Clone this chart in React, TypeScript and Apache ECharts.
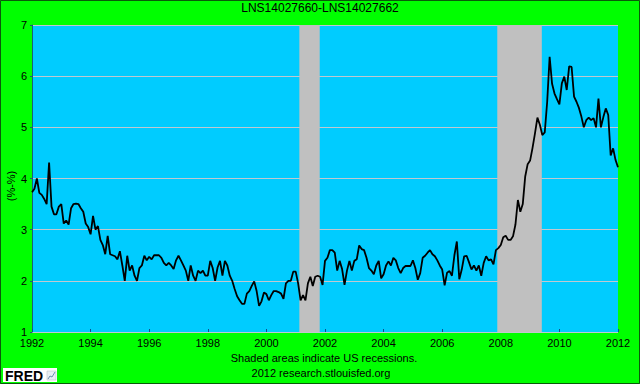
import React, { useEffect, useRef } from "react";
import * as echarts from "echarts";

// Monthly values (%-%) per year, Jan..Dec
const v1992 = [3.73, 3.8, 4.0, 3.72, 3.68, 3.6, 3.5, 4.31, 3.45, 3.3, 3.3, 3.45];
const v1993 = [3.5, 3.12, 3.18, 3.1, 3.42, 3.5, 3.51, 3.5, 3.42, 3.35, 3.12, 3.05];
const v1994 = [2.91, 3.27, 3.0, 3.07, 2.8, 2.7, 2.52, 2.88, 2.52, 2.5, 2.48, 2.42];
const v1995 = [2.58, 2.3, 2.0, 2.49, 2.2, 2.3, 2.1, 2.0, 2.25, 2.3, 2.49, 2.4];
const v1996 = [2.47, 2.42, 2.5, 2.5, 2.5, 2.45, 2.35, 2.3, 2.35, 2.3, 2.23, 2.4];
const v1997 = [2.49, 2.4, 2.3, 2.2, 2.0, 2.3, 2.1, 2.0, 2.2, 2.15, 2.2, 2.1];
const v1998 = [2.1, 2.39, 2.25, 2.0, 2.26, 2.39, 2.1, 2.39, 2.3, 2.1, 2.0, 1.84];
const v1999 = [1.7, 1.62, 1.55, 1.55, 1.75, 1.8, 1.9, 1.99, 1.8, 1.51, 1.6, 1.77];
const v2000 = [1.74, 1.62, 1.72, 1.8, 1.8, 1.78, 1.75, 1.65, 1.95, 2.0, 2.0, 2.18];
const v2001 = [2.18, 1.95, 1.62, 1.72, 1.62, 1.95, 2.08, 1.9, 2.08, 2.1, 2.08, 1.92];
const v2002 = [2.39, 2.45, 2.6, 2.6, 2.55, 2.2, 2.39, 2.23, 1.92, 2.2, 2.39, 2.2];
const v2003 = [2.39, 2.42, 2.69, 2.62, 2.6, 2.45, 2.25, 2.2, 2.13, 2.3, 2.39, 2.05];
const v2004 = [2.13, 2.3, 2.38, 2.3, 2.45, 2.4, 2.25, 2.15, 2.25, 2.29, 2.29, 2.29];
const v2005 = [2.4, 2.25, 2.02, 2.15, 2.45, 2.49, 2.55, 2.6, 2.52, 2.48, 2.4, 2.3];
const v2006 = [2.22, 1.91, 2.16, 2.19, 2.1, 2.5, 2.77, 2.03, 2.22, 2.48, 2.49, 2.36];
const v2007 = [2.22, 2.3, 2.2, 2.3, 2.1, 2.35, 2.48, 2.4, 2.42, 2.32, 2.6, 2.64];
const v2008 = [2.7, 2.85, 2.88, 2.8, 2.8, 2.87, 3.1, 3.58, 3.35, 3.5, 4.04, 4.28];
const v2009 = [4.35, 4.6, 4.88, 5.19, 5.05, 4.85, 4.9, 5.5, 6.38, 5.85, 5.66, 5.55];
const v2010 = [5.45, 5.86, 5.99, 5.73, 6.19, 6.18, 5.6, 5.5, 5.38, 5.21, 5.0, 5.14];
const v2011 = [5.19, 5.14, 5.18, 5.0, 5.56, 5.0, 5.2, 5.37, 5.24, 4.45, 4.59, 4.36];
const v2012 = [4.22];

const yearlyValues: [number, number[]][] = [
  [1992, v1992], [1993, v1993], [1994, v1994], [1995, v1995], [1996, v1996],
  [1997, v1997], [1998, v1998], [1999, v1999], [2000, v2000], [2001, v2001],
  [2002, v2002], [2003, v2003], [2004, v2004], [2005, v2005], [2006, v2006],
  [2007, v2007], [2008, v2008], [2009, v2009], [2010, v2010], [2011, v2011],
  [2012, v2012],
];

// Recession shading (decimal years)
const recessions: [number, number][] = [
  [2001.125, 2001.82],
  [2007.88, 2009.4],
];

const xTicks = [1992, 1994, 1996, 1998, 2000, 2002, 2004, 2006, 2008, 2010, 2012];
const yTicks = [1, 2, 3, 4, 5, 6, 7];

const FONT = "'Liberation Sans', 'DejaVu Sans', Arial, sans-serif";

export default function App() {
  const ref = useRef<HTMLDivElement>(null);

  useEffect(() => {
    if (!ref.current) return;
    const chart = echarts.init(ref.current, undefined, { renderer: "svg" });

    const data: [number, number][] = [];
    yearlyValues.forEach(([yr, vals]) => {
      vals.forEach((v, i) => data.push([yr + i / 12, v]));
    });

    const option: any = {
      animation: false,
      backgroundColor: "#00ff00",
      grid: {
        left: 32,
        right: 22,
        top: 25,
        bottom: 52,
        show: true,
        backgroundColor: "#00ccff",
        borderWidth: 0,
        containLabel: false,
      },
      xAxis: {
        type: "value",
        min: xTicks[0],
        max: xTicks[xTicks.length - 1],
        interval: 2,
        axisLine: { show: false },
        axisTick: { show: true, inside: true, length: 3, lineStyle: { color: "#0a4f8f" } },
        splitLine: { show: false },
        axisLabel: {
          color: "#000",
          fontSize: 11,
          fontFamily: FONT,
          margin: 5,
          formatter: (v: number) => String(v),
        },
      },
      yAxis: {
        type: "value",
        min: yTicks[0],
        max: yTicks[yTicks.length - 1],
        interval: 1,
        axisLine: { show: true, lineStyle: { color: "#1a5f7a", width: 1 } },
        axisTick: { show: true, length: 2, lineStyle: { color: "#1a5f7a" } },
        splitLine: { show: true, lineStyle: { color: "#c0c8d0", width: 1 } },
        axisLabel: {
          color: "#000",
          fontSize: 11,
          fontFamily: FONT,
          margin: 5,
        },
      },
      series: [
        {
          type: "line",
          data: [],
          z: 1,
          silent: true,
          markArea: {
            silent: true,
            itemStyle: { color: "#c0c0c0", opacity: 1 },
            data: recessions.map(([a, b]) => [{ xAxis: a }, { xAxis: b }]),
          },
        },
        {
          type: "line",
          data,
          z: 5,
          showSymbol: false,
          symbol: "none",
          lineStyle: { color: "#000", width: 1.8 },
        },
      ],
      graphic: [
        {
          type: "rect",
          shape: { x: 0.5, y: 0.5, width: 639, height: 383 },
          style: { fill: "none", stroke: "#0a5a0a", lineWidth: 1 },
          silent: true,
          z: 100,
        },
        {
          type: "text",
          x: 320,
          y: 8,
          style: {
            text: "LNS14027660-LNS14027662",
            fill: "#000",
            font: `12px ${FONT}`,
            align: "center",
            verticalAlign: "middle",
          },
        },
        {
          type: "text",
          x: 11,
          y: 186,
          rotation: Math.PI / 2,
          style: {
            text: "(%-%)",
            fill: "#000",
            font: `11px ${FONT}`,
            align: "center",
            verticalAlign: "middle",
          },
        },
        {
          type: "text",
          x: 324,
          y: 357.5,
          style: {
            text: "Shaded areas indicate US recessions.",
            fill: "#000",
            font: `11px ${FONT}`,
            align: "center",
            verticalAlign: "middle",
          },
        },
        {
          type: "text",
          x: 321,
          y: 372.5,
          style: {
            text: "2012 research.stlouisfed.org",
            fill: "#000",
            font: `11px ${FONT}`,
            align: "center",
            verticalAlign: "middle",
          },
        },
        {
          type: "group",
          x: 3,
          y: 368,
          children: [
            {
              type: "rect",
              shape: { x: 0, y: 0, width: 54, height: 14 },
              style: { fill: "#ffffff" },
            },
            {
              type: "text",
              x: 2,
              y: 7.5,
              style: {
                text: "FRED",
                fill: "#000",
                font: `bold 14px ${FONT}`,
                align: "left",
                verticalAlign: "middle",
              },
            },
            {
              type: "rect",
              shape: { x: 44, y: 3, width: 9, height: 9 },
              style: { fill: "#e8eef4", stroke: "#b0b8c0", lineWidth: 0.5 },
            },
            {
              type: "polyline",
              shape: { points: [[45, 11], [47, 8], [49, 9], [52, 4]] },
              style: { stroke: "#6a8fb0", lineWidth: 1, fill: "none" },
            },
          ],
        },
      ],
    };

    chart.setOption(option);
    return () => chart.dispose();
  }, []);

  return (
    <div
      ref={ref}
      style={{ position: "absolute", left: 0, top: 0, width: 640, height: 384 }}
    />
  );
}
